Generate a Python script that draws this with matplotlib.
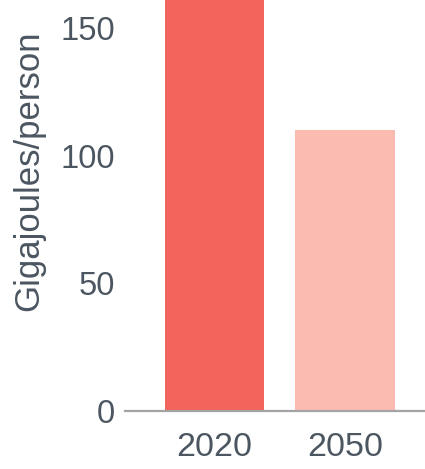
import matplotlib
matplotlib.use("Agg")
import matplotlib.pyplot as plt

years = ["2020", "2050"]
energy_per_person = [175, 110]
bar_colors = ["#f2645c", "#fbbbb1"]
y_ticks = [0, 50, 100, 150]

plt.rcParams['font.family'] = ['Liberation Sans', 'DejaVu Sans']
text_color = "#4b5661"

fig = plt.figure(figsize=(4.25, 4.69), dpi=100)
ax = fig.add_axes([125 / 425, (469 - 411) / 469, 300 / 425, 411 / 469])

x = list(range(len(years)))
ax.bar(x, energy_per_person, width=0.76, color=bar_colors, zorder=2)

ax.set_xlim(-0.686, 1.613)
ax.set_ylim(0, 160.9)
ax.set_yticks(y_ticks)
ax.set_xticks(x)
ax.set_xticklabels(years)

for side in ["top", "right", "left"]:
    ax.spines[side].set_visible(False)
ax.spines["bottom"].set_color("#a3a3a3")
ax.spines["bottom"].set_linewidth(1.6)
ax.spines["bottom"].set_zorder(3)

ax.tick_params(axis="both", length=0, labelcolor=text_color)
ax.tick_params(axis="y", labelsize=23.5, pad=7)
ax.tick_params(axis="x", labelsize=24.5, pad=15)

ax.set_ylabel("Gigajoules/person", fontsize=25, color=text_color,
              va="center")
ax.yaxis.set_label_coords(-0.32, 0.584)

fig.savefig("out.png", dpi=100)
